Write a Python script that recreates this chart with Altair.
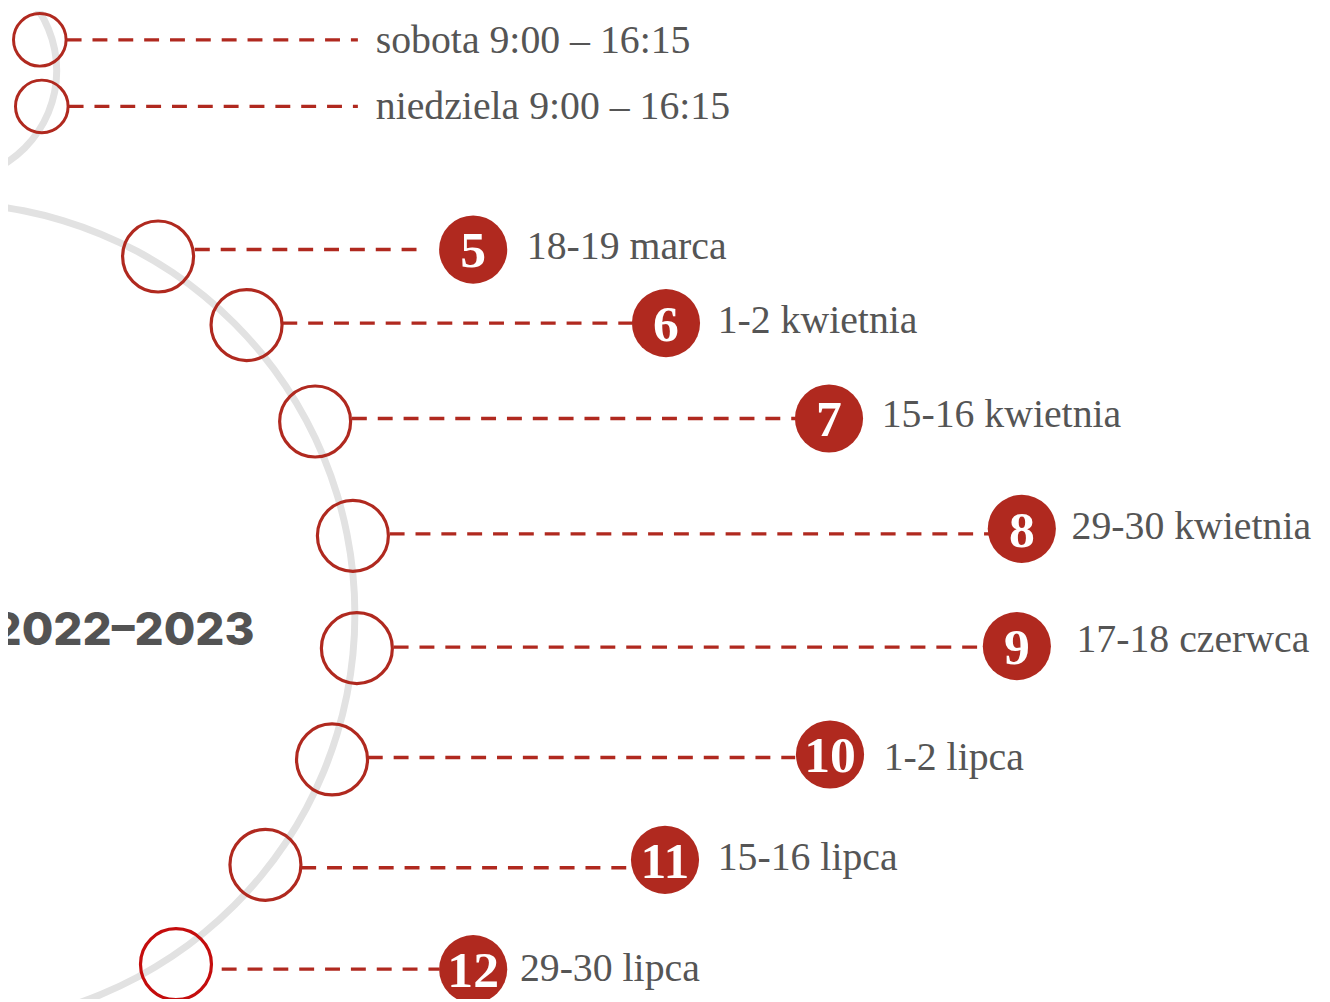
import altair as alt
import pandas as pd

# Gray guide arcs (centre x, centre y, radius)
arc_cx = [-53, -57]
arc_cy = [68, 615]
arc_r = [110, 414]

# Rows: hollow marker, dashed connector, numbered dot, label
row_no = [0, 0, 5, 6, 7, 8, 9, 10, 11, 12]
hollow_x = [40, 42, 159, 248, 317, 355, 359, 334, 267, 177]
hollow_y = [37, 104, 255, 324, 421, 536, 649, 761, 867, 967]
line_y = [37, 104, 248, 322, 418, 534, 648, 759, 870, 972]
line_x1 = [67, 69, 196, 284, 354, 392, 396, 370, 303, 223]
line_x2 = [360, 360, 430, 636, 800, 995, 990, 800, 635, 442]
labels = ["sobota 9:00 – 16:15", "niedziela 9:00 – 16:15", "18-19 marca",
          "1-2 kwietnia", "15-16 kwietnia", "29-30 kwietnia", "17-18 czerwca",
          "1-2 lipca", "15-16 lipca", "29-30 lipca"]
label_x = [378, 378, 530, 722, 887, 1078, 1083, 889, 722, 523]
label_y = [38, 105, 245, 320, 415, 527, 641, 760, 860, 972]

dot_no = ["5", "6", "7", "8", "9", "10", "11", "12"]
dot_x = [476, 670, 834, 1028, 1023, 835, 669, 476]
dot_y = [248, 322, 418, 529, 647, 756, 862, 972]

year_text = "2022–2023"
year_x = 256
year_y = 632

RED = "#b0291f"
GRAY_TXT = "#555555"

arcs = pd.DataFrame({"x": arc_cx, "y": arc_cy, "r": arc_r})
rows = pd.DataFrame({"n": row_no, "hx": hollow_x, "hy": hollow_y, "ly": line_y,
                     "x1": line_x1, "x2": line_x2, "label": labels,
                     "tx": label_x, "ty": label_y})
dots = pd.DataFrame({"num": dot_no, "x": dot_x, "y": dot_y})
year = pd.DataFrame({"t": [year_text], "x": [year_x], "y": [year_y]})

xs = alt.Scale(domain=[8, 1330], nice=False, zero=False)
ys = alt.Scale(domain=[8, 1002], nice=False, zero=False, reverse=True)


def X(f):
    return alt.X(f, type="quantitative", scale=xs, axis=None)


def Y(f):
    return alt.Y(f, type="quantitative", scale=ys, axis=None)


ring_layers = []
for i in range(len(arc_r)):
    ring_layers.append(
        alt.Chart(arcs.iloc[[i]]).mark_arc(color="#e2e2e2", clip=True).encode(
            x=X("x"), y=Y("y"),
            radius=alt.value(arc_r[i] + 3.5), radius2=alt.value(arc_r[i] - 3.5),
            theta=alt.value(0), theta2=alt.value(6.2832),
        )
    )

lines = alt.Chart(rows).mark_rule(color=RED, strokeWidth=3.4, strokeDash=[15, 11]).encode(
    x=X("x1"), x2="x2", y=Y("ly"))

hollow_small = alt.Chart(rows).transform_filter("datum.n == 0").mark_point(
    shape="circle", filled=False, strokeWidth=3, color=RED, opacity=1, size=2800, clip=True
).encode(x=X("hx"), y=Y("hy"))

hollow_big = alt.Chart(rows).transform_filter("datum.n > 0").mark_point(
    shape="circle", filled=False, strokeWidth=3.2, opacity=1, size=5100, clip=True
).encode(
    x=X("hx"), y=Y("hy"),
    stroke=alt.condition("datum.n == 12", alt.value("#c40d0d"), alt.value(RED)),
)

dot_marks = alt.Chart(dots).mark_point(
    shape="circle", filled=True, opacity=1, color=RED, size=4700, clip=True
).encode(x=X("x"), y=Y("y"))

dot_text = alt.Chart(dots).mark_text(
    font="Liberation Serif", fontWeight="bold", fontSize=52, color="white",
    baseline="middle", align="center", dy=2, clip=True
).encode(x=X("x"), y=Y("y"), text="num:N")

label_text = alt.Chart(rows).mark_text(
    font="Liberation Serif", fontSize=40, color=GRAY_TXT,
    baseline="middle", align="left", clip=True
).encode(x=X("tx"), y=Y("ty"), text="label:N")

year_mark = alt.Chart(year).mark_text(
    font="Inter", fontWeight=800, fontSize=46, color="#535353",
    baseline="middle", align="right", clip=True
).encode(x=X("x"), y=Y("y"), text="t:N")

chart = alt.layer(*ring_layers, lines, hollow_small, hollow_big, dot_marks,
                  dot_text, label_text, year_mark).properties(
    width=1322, height=994, padding=0,
    autosize=alt.AutoSizeParams(type="none"),
).configure_view(stroke=None)

chart.save("out.html", embed_options={"renderer": "svg", "actions": False})
